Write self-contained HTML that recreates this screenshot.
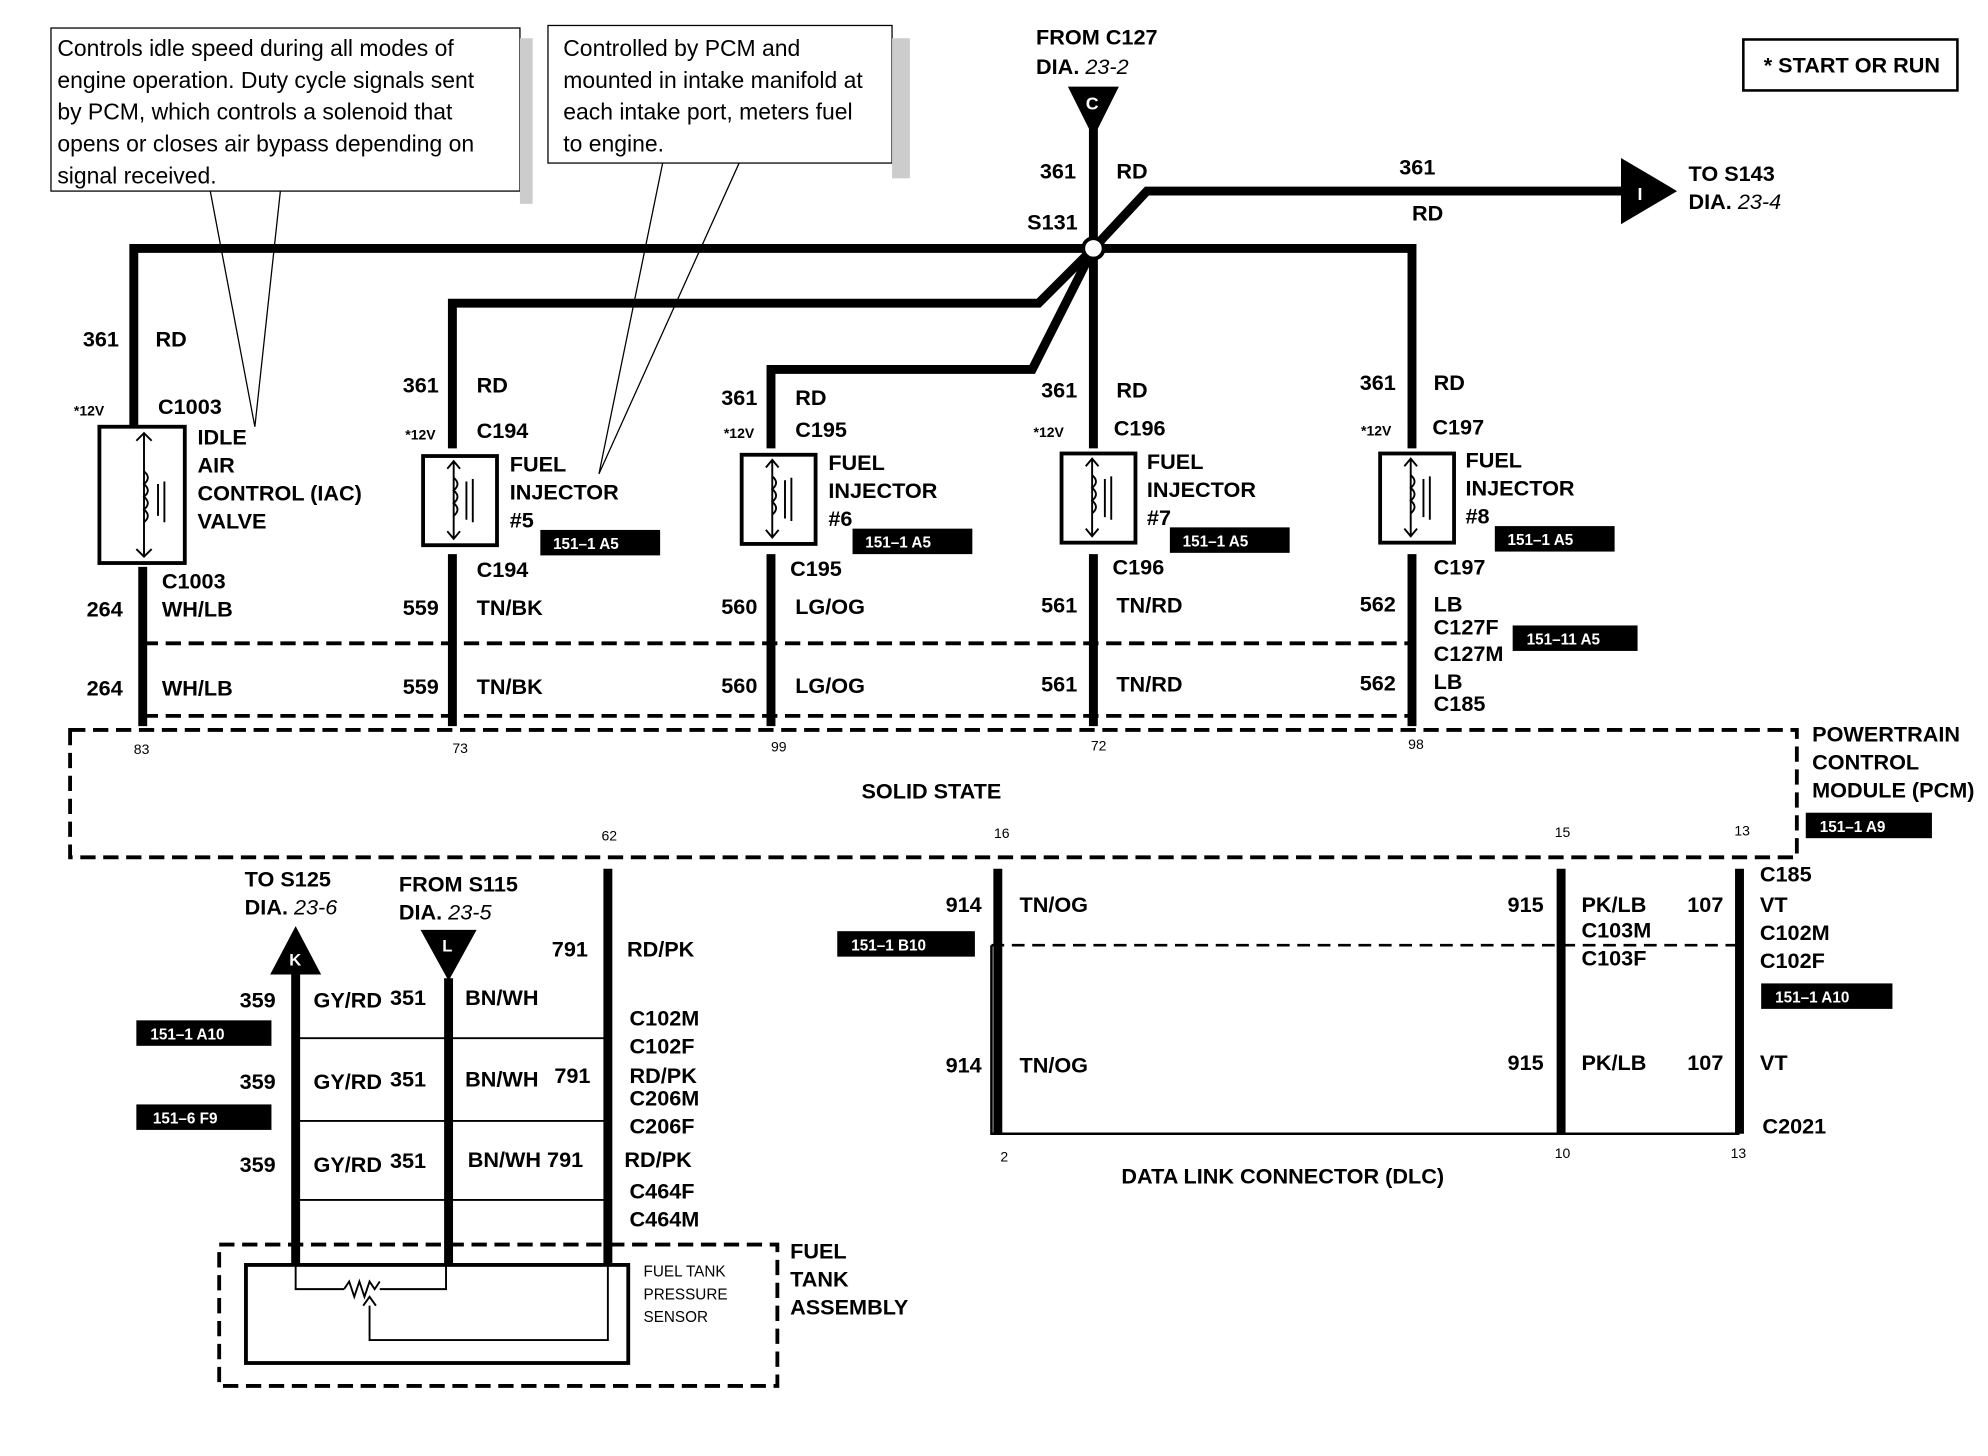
<!DOCTYPE html>
<html><head><meta charset="utf-8"><style>
html,body{margin:0;padding:0;background:#fff}
svg{display:block}
text{font-family:"Liberation Sans",Arial,sans-serif;font-weight:bold;fill:#000}
.n{font-weight:normal}
.w{fill:#fff}
</style></head><body>
<svg width="1988" height="1456" viewBox="0 0 1560 1143" preserveAspectRatio="none" xmlns="http://www.w3.org/2000/svg">
<rect width="1560" height="1143" fill="#fff"/>
<rect x="40" y="22" width="368" height="128" fill="none" stroke="#000" stroke-width="1"/>
<rect x="408" y="30" width="10" height="130" fill="#ccc"/>
<rect x="430" y="20" width="270" height="108" fill="none" stroke="#000" stroke-width="1"/>
<rect x="700" y="30" width="14" height="110" fill="#ccc"/>
<g font-size="18" class="n">
<text x="45" y="44" class="n">Controls idle speed during all modes of</text>
<text x="45" y="69" class="n">engine operation.  Duty cycle signals sent</text>
<text x="45" y="94" class="n">by PCM, which controls a solenoid that</text>
<text x="45" y="119" class="n">opens or closes air bypass depending on</text>
<text x="45" y="144" class="n">signal received.</text>
<text x="442" y="44" class="n">Controlled by PCM and</text>
<text x="442" y="69" class="n">mounted in intake manifold at</text>
<text x="442" y="94" class="n">each intake port, meters fuel</text>
<text x="442" y="119" class="n">to engine.</text>
</g>
<g stroke="#000" stroke-width="1" fill="none">
<path d="M165 150 L200 335 L220 150"/>
<path d="M520 128 L470 372 L580 128"/>
</g>
<rect x="1368" y="31" width="168" height="40" fill="none" stroke="#000" stroke-width="2"/>
<text x="1384" y="57" font-size="17">* START OR RUN</text>
<g stroke="#000" stroke-width="7" fill="none" stroke-linejoin="miter">
<path d="M105 335 V195 H1108 V352"/>
<path d="M858 100 V352"/>
<path d="M858 195 L900 150 H1280"/>
<path d="M858 195 L815 238 H355 V352"/>
<path d="M858 195 L810 290 H605 V352"/>
</g>
<polygon points="838,68 878,68 858,108" fill="#000"/>
<text x="852" y="86" font-size="14" class="w">C</text>
<polygon points="1272,124 1316,150 1272,176" fill="#000"/>
<text x="1285" y="157" font-size="14" class="w">I</text>
<circle cx="858" cy="195" r="8" fill="#fff" stroke="#000" stroke-width="3"/>
<g font-size="17">
<text x="813" y="35">FROM C127</text>
<text x="813" y="58">DIA. <tspan font-style="italic" class="n">23-2</tspan></text>
<text x="816" y="140">361</text><text x="876" y="140">RD</text>
<text x="806" y="180">S131</text>
<text x="1098" y="137">361</text><text x="1108" y="173">RD</text>
<text x="1325" y="142">TO S143</text>
<text x="1325" y="164">DIA. <tspan font-style="italic" class="n">23-4</tspan></text>
<text x="65" y="272">361</text><text x="122" y="272">RD</text>
<text x="316" y="308">361</text><text x="374" y="308">RD</text>
<text x="566" y="318">361</text><text x="624" y="318">RD</text>
<text x="817" y="312">361</text><text x="876" y="312">RD</text>
<text x="1067" y="306">361</text><text x="1125" y="306">RD</text>
</g>
<g stroke="#000" stroke-width="3" fill="none">
<rect x="78" y="335" width="67" height="107"/>
<rect x="332" y="358" width="58" height="70"/>
<rect x="582" y="357" width="58" height="70"/>
<rect x="833" y="356" width="58" height="70"/>
<rect x="1083" y="356" width="58" height="70"/>
</g>
<g stroke="#000" stroke-width="1.5" fill="none">
<path d="M113 340 V437 M107 346 L113 340 L119 346 M107 431 L113 437 L119 431 M113 370 q6 5 0 10 q6 5 0 10 q6 5 0 10 q6 5 0 10 M124 380 V405 M129 378 V410"/>
<path d="M356 362 V423 M351 368 L356 362 L361 368 M351 417 L356 423 L361 417 M356 375 q6 5 0 10 q6 5 0 10 q6 5 0 10 M366 378 V408 M371 376 V410"/>
<path d="M606 361 V422 M601 367 L606 361 L611 367 M601 416 L606 422 L611 416 M606 374 q6 5 0 10 q6 5 0 10 q6 5 0 10 M616 377 V407 M621 375 V409"/>
<path d="M857 360 V421 M852 366 L857 360 L862 366 M852 415 L857 421 L862 415 M857 373 q6 5 0 10 q6 5 0 10 q6 5 0 10 M867 376 V406 M872 374 V408"/>
<path d="M1107 360 V421 M1102 366 L1107 360 L1112 366 M1102 415 L1107 421 L1112 415 M1107 373 q6 5 0 10 q6 5 0 10 q6 5 0 10 M1117 376 V406 M1122 374 V408"/>
</g>
<g stroke="#000" stroke-width="7" fill="none">
<path d="M112 445 V570 M355 435 V570 M605 435 V570 M858 435 V570 M1108 435 V570"/>
</g>
<g stroke="#000" stroke-width="3" stroke-dasharray="12 6" fill="none">
<path d="M112 505 H1108"/>
<path d="M112 562 H1108"/>
<path d="M55 573 H1410 V673 H55 Z"/>
</g>
<g font-size="17">
<text x="58" y="326" font-size="11">*12V</text><text x="124" y="325">C1003</text>
<text x="155" y="349">IDLE</text><text x="155" y="371">AIR</text><text x="155" y="393">CONTROL (IAC)</text><text x="155" y="415">VALVE</text>
<text x="318" y="345" font-size="11">*12V</text><text x="374" y="344">C194</text>
<text x="400" y="370">FUEL</text><text x="400" y="392">INJECTOR</text><text x="400" y="414">#5</text>
<text x="568" y="344" font-size="11">*12V</text><text x="624" y="343">C195</text>
<text x="650" y="369">FUEL</text><text x="650" y="391">INJECTOR</text><text x="650" y="413">#6</text>
<text x="811" y="343" font-size="11">*12V</text><text x="874" y="342">C196</text>
<text x="900" y="368">FUEL</text><text x="900" y="390">INJECTOR</text><text x="900" y="412">#7</text>
<text x="1068" y="342" font-size="11">*12V</text><text x="1124" y="341">C197</text>
<text x="1150" y="367">FUEL</text><text x="1150" y="389">INJECTOR</text><text x="1150" y="411">#8</text>
<text x="127" y="462">C1003</text><text x="127" y="484">WH/LB</text><text x="68" y="484">264</text>
<text x="374" y="453">C194</text><text x="374" y="483">TN/BK</text><text x="316" y="483">559</text>
<text x="620" y="452">C195</text><text x="624" y="482">LG/OG</text><text x="566" y="482">560</text>
<text x="873" y="451">C196</text><text x="876" y="481">TN/RD</text><text x="817" y="481">561</text>
<text x="1125" y="451">C197</text><text x="1125" y="480">LB</text><text x="1125" y="498">C127F</text><text x="1125" y="519">C127M</text><text x="1125" y="541">LB</text><text x="1125" y="558">C185</text><text x="1067" y="480">562</text>
<text x="68" y="546">264</text><text x="127" y="546">WH/LB</text>
<text x="316" y="545">559</text><text x="374" y="545">TN/BK</text>
<text x="566" y="544">560</text><text x="624" y="544">LG/OG</text>
<text x="817" y="543">561</text><text x="876" y="543">TN/RD</text>
<text x="1067" y="542">562</text>
<text x="676" y="627">SOLID STATE</text>
<text x="1422" y="582">POWERTRAIN</text><text x="1422" y="604">CONTROL</text><text x="1422" y="626">MODULE (PCM)</text>
</g>
<g font-size="11" class="n">
<text x="105" y="592" class="n">83</text><text x="355" y="591" class="n">73</text><text x="605" y="590" class="n">99</text><text x="856" y="589" class="n">72</text><text x="1105" y="588" class="n">98</text>
<text x="472" y="660" class="n">62</text><text x="780" y="658" class="n">16</text><text x="1220" y="657" class="n">15</text><text x="1361" y="656" class="n">13</text>
<text x="785" y="912" class="n">2</text><text x="1220" y="909" class="n">10</text><text x="1358" y="909" class="n">13</text>
</g>
<g fill="#000">
<rect x="424" y="416" width="94" height="20"/><rect x="669" y="415" width="94" height="20"/><rect x="918" y="414" width="94" height="20"/><rect x="1173" y="413" width="94" height="20"/>
<rect x="1187" y="491" width="98" height="20"/><rect x="1417" y="638" width="99" height="20"/>
<rect x="657" y="731" width="108" height="20"/><rect x="1382" y="772" width="103" height="20"/>
<rect x="107" y="801" width="106" height="20"/><rect x="107" y="867" width="106" height="20"/>
</g>
<g font-size="12" class="w">
<text x="434" y="431" class="w">151–1 A5</text><text x="679" y="430" class="w">151–1 A5</text><text x="928" y="429" class="w">151–1 A5</text><text x="1183" y="428" class="w">151–1 A5</text>
<text x="1198" y="506" class="w">151–11 A5</text><text x="1428" y="653" class="w">151–1 A9</text>
<text x="668" y="746" class="w">151–1 B10</text><text x="1393" y="787" class="w">151–1 A10</text>
<text x="118" y="816" class="w">151–1 A10</text><text x="120" y="882" class="w">151–6 F9</text>
</g>
<g stroke="#000" stroke-width="7" fill="none">
<path d="M232 760 V993 M352 768 V993 M477 682 V993"/>
<path d="M783 682 V890 M1225 682 V890 M1365 682 V890"/>
</g>
<polygon points="212,765 252,765 232,727" fill="#000"/>
<text x="227" y="758" font-size="13" class="w">K</text>
<polygon points="330,730 374,730 352,770" fill="#000"/>
<text x="347" y="747" font-size="13" class="w">L</text>
<g stroke="#000" stroke-width="1.5" fill="none">
<path d="M232 815 H477 M232 880 H477 M232 942 H477"/>
<path d="M232 993 V1012 H270 M298 1012 H350 V993 M477 993 V1052 H290 V1025"/>
<path d="M285 1025 L290 1018 L295 1025"/>
</g>
<path d="M270 1012 l4 -6 l4 12 l4 -12 l4 12 l4 -12 l4 6 l4 -6" stroke="#000" stroke-width="1.5" fill="none"/>
<rect x="193" y="993" width="300" height="77" fill="none" stroke="#000" stroke-width="3"/>
<rect x="172" y="977" width="438" height="111" fill="none" stroke="#000" stroke-width="3" stroke-dasharray="12 6"/>
<g stroke="#000" stroke-width="2" fill="none">
<path d="M778 742 H1365" stroke-dasharray="10 6"/>
<path d="M778 742 V890 H1365"/>
</g>
<g font-size="17">
<text x="192" y="696">TO S125</text><text x="192" y="718">DIA. <tspan font-style="italic" class="n">23-6</tspan></text>
<text x="313" y="700">FROM S115</text><text x="313" y="722">DIA. <tspan font-style="italic" class="n">23-5</tspan></text>
<text x="433" y="751">791</text><text x="492" y="751">RD/PK</text>
<text x="188" y="791">359</text><text x="246" y="791">GY/RD</text><text x="306" y="789">351</text><text x="365" y="789">BN/WH</text>
<text x="188" y="855">359</text><text x="246" y="855">GY/RD</text><text x="306" y="853">351</text><text x="365" y="853">BN/WH</text><text x="435" y="850">791</text>
<text x="188" y="920">359</text><text x="246" y="920">GY/RD</text><text x="306" y="917">351</text><text x="367" y="916">BN/WH 791</text><text x="490" y="916">RD/PK</text>
<text x="494" y="805">C102M</text><text x="494" y="827">C102F</text><text x="494" y="850">RD/PK</text><text x="494" y="868">C206M</text><text x="494" y="890">C206F</text>
<text x="494" y="941">C464F</text><text x="494" y="963">C464M</text>
<text x="620" y="988">FUEL</text><text x="620" y="1010">TANK</text><text x="620" y="1032">ASSEMBLY</text>
<text x="742" y="716">914</text><text x="800" y="716">TN/OG</text>
<text x="742" y="842">914</text><text x="800" y="842">TN/OG</text>
<text x="1183" y="716">915</text><text x="1241" y="716">PK/LB</text><text x="1241" y="736">C103M</text><text x="1241" y="758">C103F</text>
<text x="1183" y="840">915</text><text x="1241" y="840">PK/LB</text>
<text x="1324" y="716">107</text><text x="1381" y="716">VT</text><text x="1381" y="692">C185</text><text x="1381" y="738">C102M</text><text x="1381" y="760">C102F</text>
<text x="1324" y="840">107</text><text x="1381" y="840">VT</text><text x="1383" y="890">C2021</text>
<text x="880" y="929">DATA LINK CONNECTOR (DLC)</text>
</g>
<g font-size="12" class="n">
<text x="505" y="1002" class="n">FUEL TANK</text><text x="505" y="1020" class="n">PRESSURE</text><text x="505" y="1038" class="n">SENSOR</text>
</g>
</svg>
</body></html>
